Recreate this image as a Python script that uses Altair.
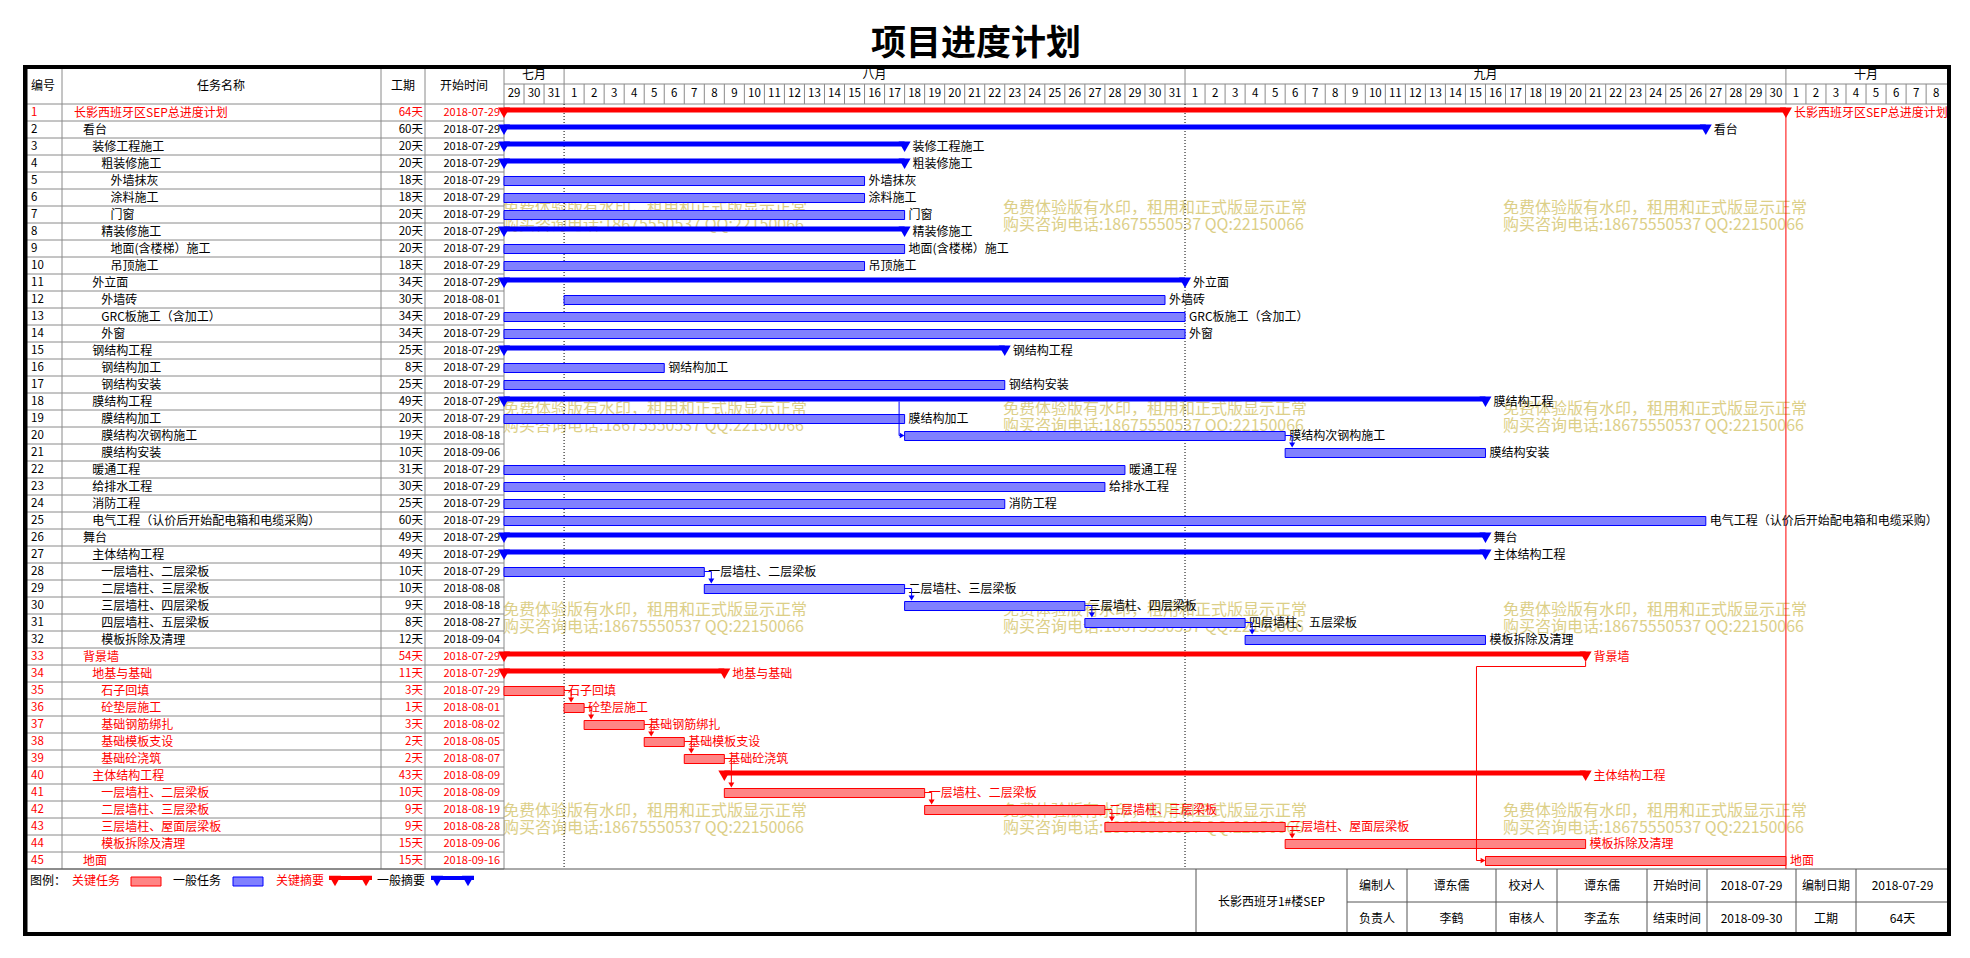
import altair as alt
import pandas as pd
import numpy as np

# ---------------- data ----------------
ids = list(range(1, 46))
names = ["长影西班牙区SEP总进度计划", "看台", "装修工程施工", "粗装修施工", "外墙抹灰", "涂料施工", "门窗",
         "精装修施工", "地面(含楼梯）施工", "吊顶施工", "外立面", "外墙砖", "GRC板施工（含加工）", "外窗",
         "钢结构工程", "钢结构加工", "钢结构安装", "膜结构工程", "膜结构加工", "膜结构次钢构施工", "膜结构安装",
         "暖通工程", "给排水工程", "消防工程", "电气工程（认价后开始配电箱和电缆采购）", "舞台", "主体结构工程",
         "一层墙柱、二层梁板", "二层墙柱、三层梁板", "三层墙柱、四层梁板", "四层墙柱、五层梁板", "模板拆除及清理",
         "背景墙", "地基与基础", "石子回填", "砼垫层施工", "基础钢筋绑扎", "基础模板支设", "基础砼浇筑",
         "主体结构工程", "一层墙柱、二层梁板", "二层墙柱、三层梁板", "三层墙柱、屋面层梁板", "模板拆除及清理", "地面"]
levels = [1, 2, 3, 4, 5, 5, 5, 4, 5, 5, 3, 4, 4, 4, 3, 4, 4, 3, 4, 4, 4, 3, 3, 3, 3,
          2, 3, 4, 4, 4, 4, 4, 2, 3, 4, 4, 4, 4, 4, 3, 4, 4, 4, 4, 2]
durations = [64, 60, 20, 20, 18, 18, 20, 20, 20, 18, 34, 30, 34, 34, 25, 8, 25, 49, 20, 19, 10,
             31, 30, 25, 60, 49, 49, 10, 10, 9, 8, 12, 54, 11, 3, 1, 3, 2, 2, 43, 10, 9, 9, 15, 15]
starts = ["2018-07-29"] * 11 + ["2018-08-01"] + ["2018-07-29"] * 7 + ["2018-08-18", "2018-09-06"] + \
         ["2018-07-29"] * 7 + ["2018-08-08", "2018-08-18", "2018-08-27", "2018-09-04"] + \
         ["2018-07-29"] * 3 + ["2018-08-01", "2018-08-02", "2018-08-05", "2018-08-07", "2018-08-09",
                               "2018-08-09", "2018-08-19", "2018-08-28", "2018-09-06", "2018-09-16"]
summary_ids = [1, 2, 3, 4, 8, 11, 15, 18, 26, 27, 33, 34, 40]
critical_ids = [1] + list(range(33, 46))
links_a = [(28, 29), (29, 30), (30, 31), (31, 32), (20, 21), (35, 36), (36, 37), (37, 38),
           (38, 39), (39, 41), (41, 42), (42, 43), (43, 44)]
link_19_20 = (18, 19, 20)   # drawn from the summary row above, down-then-right
link_33_45 = (33, 45)       # back link: down, left, down, right

month_names = ["七月", "八月", "九月", "十月"]
timeline_start = "2018-07-29"
timeline_days = 72

col_headers = ["编号", "任务名称", "工期", "开始时间"]
legend_labels = ["图例：", "关键任务", "一般任务", "关键摘要", "一般摘要"]
footer_project = "长影西班牙1#楼SEP"
footer_row1 = ["编制人", "谭东儒", "校对人", "谭东儒", "开始时间", "2018-07-29", "编制日期", "2018-07-29"]
footer_row2 = ["负责人", "李鹤", "审核人", "李孟东", "结束时间", "2018-09-30", "工期", "64天"]
title_text = "项目进度计划"
wm1 = "免费体验版有水印，租用和正式版显示正常"
wm2 = "购买咨询电话:18675550537 QQ:22150066"

# ---------------- layout ----------------
W, H = 1950, 940
OX, OY = 8, 8
DAY0, DW = 504.0, 20.03
ROW_TOP, ROW_H = 104.0, 17.0
dmin = -(DAY0 - OX) / DW
dmax = dmin + W / DW
rmin = -((ROW_TOP - ROW_H / 2) - OY) / ROW_H
rmax = rmin + H / ROW_H
XS = alt.Scale(domain=[dmin, dmax], nice=False, zero=False)
YS = alt.Scale(domain=[rmin, rmax], nice=False, zero=False, reverse=True)
F = "Noto Sans CJK SC"
RED, BLUE = "#FF0000", "#0000FF"
RFILL, BFILL = "#FF8585", "#8080FF"
GRAY = "#8a8a8a"

base = pd.Timestamp(timeline_start)
df = pd.DataFrame(dict(id=ids, name=names, level=levels, dur=durations, start=starts))
df["sday"] = [(pd.Timestamp(s) - base).days for s in starts]
df["eday"] = df["sday"] + df["dur"]
df["summary"] = df["id"].isin(summary_ids)
df["crit"] = np.where(df["id"].isin(critical_ids), "y", "n")
df["durtxt"] = df["dur"].astype(str) + "天"
df["idtxt"] = df["id"].astype(str)

one = pd.DataFrame({"a": [0]})


def X(f):
    return alt.X(f, type="quantitative", scale=XS, axis=None)


def Y(f):
    return alt.Y(f, type="quantitative", scale=YS, axis=None)


def txt(s, x, y, size=12, color="black", align="center", weight="normal", font=F):
    return alt.Chart(one).mark_text(text=s, font=font, fontSize=size, color=color, align=align,
                                    baseline="middle", fontWeight=weight).encode(
        x=alt.value(x - OX), y=alt.value(y - OY))


def hline(x1, x2, y, color=GRAY, w=1):
    return alt.Chart(one).mark_rule(color=color, strokeWidth=w).encode(
        x=alt.value(x1 - OX), x2=alt.value(x2 - OX), y=alt.value(y - OY))


def vline(x, y1, y2, color=GRAY, w=1):
    return alt.Chart(one).mark_rule(color=color, strokeWidth=w).encode(
        x=alt.value(x - OX), y=alt.value(y1 - OY), y2=alt.value(y2 - OY))


def cond(on, off):
    return alt.condition("datum.crit == 'y'", alt.value(on), alt.value(off))


layers = []

# watermarks
for wy in [208, 409, 610, 811]:
    for wx in [503, 1003, 1503]:
        layers.append(txt(wm1, wx, wy, size=16, color="#DCCF88", align="left"))
        layers.append(txt(wm2, wx, wy + 17, size=16, color="#DCCF88", align="left"))

# title
layers.append(txt(title_text, 976, 44, size=35, weight="bold"))

# ---- grid of left table ----
bounds = pd.DataFrame({"b": np.arange(0, 46) + 0.5})
layers.append(alt.Chart(bounds).mark_rule(color=GRAY, strokeWidth=1).encode(
    x=alt.value(25 - OX), x2=alt.value(504 - OX), y=Y("b")))
layers.append(hline(504, 1949, 104))
layers.append(hline(504, 1949, 84))
for cx in [62, 381, 425, 504]:
    layers.append(vline(cx, 67, 869))

# day / month header lines
days = pd.date_range(base, periods=timeline_days)
dd = pd.DataFrame({"d": np.arange(timeline_days), "lab": [str(x.day) for x in days]})
dd["c"] = dd["d"] + 0.5
layers.append(alt.Chart(dd[dd.d > 0]).mark_rule(color=GRAY, strokeWidth=1).encode(
    x=X("d"), y=alt.value(84 - OY), y2=alt.value(104 - OY)))
layers.append(alt.Chart(dd).mark_text(font=F, fontSize=11.5, baseline="middle", color="black").encode(
    x=X("c"), y=alt.value(94 - OY), text="lab:N"))
mstart = [0] + [i for i in range(1, timeline_days) if days[i].day == 1]
mend = mstart[1:] + [timeline_days]
md = pd.DataFrame({"m": month_names, "s": mstart, "e": mend})
md["c"] = (md["s"] + md["e"]) / 2
layers.append(alt.Chart(md[md.s > 0]).mark_rule(color=GRAY, strokeWidth=1).encode(
    x=X("s"), y=alt.value(67 - OY), y2=alt.value(84 - OY)))
layers.append(alt.Chart(md).mark_text(font=F, fontSize=12, baseline="middle", color="black").encode(
    x=X("c"), y=alt.value(75 - OY), text="m:N"))
# dotted month lines in gantt
layers.append(alt.Chart(md[(md.s > 0) & (md.s < 60)]).mark_rule(color="black", strokeWidth=1, strokeDash=[1, 2]).encode(
    x=X("s"), y=alt.value(104 - OY), y2=alt.value(869 - OY)))
# project end red line
endd = pd.DataFrame({"e": [int(df.eday.max())], "r1": [1.0], "r2": [45.5]})
layers.append(alt.Chart(endd).mark_rule(color=RED, strokeWidth=1).encode(x=X("e"), y=Y("r1"), y2="r2"))

# column headers
for s, cx in zip(col_headers, [43, 221, 403, 464]):
    layers.append(txt(s, cx, 86))

# ---- table text ----
layers.append(alt.Chart(df).mark_text(font=F, fontSize=11.5, align="left", baseline="middle").encode(
    x=alt.value(31 - OX), y=Y("id"), text="idtxt:N", color=cond(RED, "black")))
for L in range(1, 6):
    layers.append(alt.Chart(df).transform_filter(f"datum.level == {L}").mark_text(
        font=F, fontSize=12, align="left", baseline="middle").encode(
        x=alt.value(74 + 9.1 * (L - 1) - OX), y=Y("id"), text="name:N", color=cond(RED, "black")))
layers.append(alt.Chart(df).mark_text(font=F, fontSize=11.5, align="right", baseline="middle").encode(
    x=alt.value(423 - OX), y=Y("id"), text="durtxt:N", color=cond(RED, "black")))
layers.append(alt.Chart(df).mark_text(font=F, fontSize=11, align="right", baseline="middle").encode(
    x=alt.value(500 - OX), y=Y("id"), text="start:N", color=cond(RED, "black")))

# ---- gantt bars ----
layers.append(alt.Chart(df).transform_filter("!datum.summary").mark_rect(yOffset=-4, y2Offset=5, strokeWidth=1).encode(
    x=X("sday"), x2="eday", y=Y("id"), y2="id", fill=cond(RFILL, BFILL), stroke=cond(RED, BLUE)))
layers.append(alt.Chart(df).transform_filter("datum.summary").mark_rule(strokeWidth=5, strokeCap="butt", yOffset=-2.5).encode(
    x=X("sday"), x2="eday", y=Y("id"), color=cond(RED, BLUE)))
layers.append(alt.Chart(df).transform_filter("datum.summary").transform_fold(["sday", "eday"]).mark_point(
    shape="triangle-down", filled=True, size=144, opacity=1, yOffset=0.2, strokeWidth=0).encode(
    x=X("value"), y=Y("id"), color=cond(RED, BLUE)))

# labels
layers.append(alt.Chart(df).transform_filter("!datum.summary").mark_text(font=F, fontSize=12, align="left", baseline="middle", dx=4).encode(
    x=X("eday"), y=Y("id"), text="name:N", color=cond(RED, "black")))
layers.append(alt.Chart(df).transform_filter("datum.summary").mark_text(font=F, fontSize=12, align="left", baseline="middle", dx=8).encode(
    x=X("eday"), y=Y("id"), text="name:N", color=cond(RED, "black")))

# ---- links ----
lk = df.set_index("id")
la = pd.DataFrame([{"pe": lk.loc[p, "eday"], "pr": p, "sr": s, "crit": lk.loc[s, "crit"]} for p, s in links_a])
layers.append(alt.Chart(la).mark_rule(strokeWidth=1, x2Offset=7).encode(
    x=X("pe"), x2="pe", y=Y("pr"), color=cond(RED, BLUE)))
layers.append(alt.Chart(la).mark_rule(strokeWidth=1, xOffset=7, x2Offset=7, y2Offset=-8).encode(
    x=X("pe"), x2="pe", y=Y("pr"), y2="sr", color=cond(RED, BLUE)))
layers.append(alt.Chart(la).mark_point(shape="triangle-down", filled=True, size=36, opacity=1, strokeWidth=0,
                                       xOffset=7, yOffset=-7.5).encode(
    x=X("pe"), y=Y("sr"), color=cond(RED, BLUE)))

# link 19 -> 20 (vertical from above, then into the successor)
top_r, p, s = link_19_20
lb = pd.DataFrame([{"pe": lk.loc[p, "eday"], "ss": lk.loc[s, "sday"], "tr": top_r, "sr": s, "crit": lk.loc[s, "crit"]}])
layers.append(alt.Chart(lb).mark_rule(strokeWidth=1, xOffset=-5.5, x2Offset=-5.5).encode(
    x=X("pe"), x2="pe", y=Y("tr"), y2="sr", color=cond(RED, BLUE)))
layers.append(alt.Chart(lb).mark_rule(strokeWidth=1, xOffset=-5.5, x2Offset=-4).encode(
    x=X("pe"), x2="ss", y=Y("sr"), color=cond(RED, BLUE)))
layers.append(alt.Chart(lb).mark_point(shape="triangle-right", filled=True, size=30, opacity=1, strokeWidth=0,
                                       xOffset=-2.5).encode(
    x=X("ss"), y=Y("sr"), color=cond(RED, BLUE)))

# link 33 -> 45 (back link)
p, s = link_33_45
lc = pd.DataFrame([{"pe": lk.loc[p, "eday"], "ss": lk.loc[s, "sday"], "pr": p, "sr": s, "crit": lk.loc[s, "crit"]}])
layers.append(alt.Chart(lc).mark_rule(strokeWidth=1, yOffset=5, y2Offset=10).encode(
    x=X("pe"), y=Y("pr"), y2="pr", color=cond(RED, BLUE)))
layers.append(alt.Chart(lc).mark_rule(strokeWidth=1, xOffset=-9, yOffset=10).encode(
    x=X("ss"), x2="pe", y=Y("pr"), color=cond(RED, BLUE)))
layers.append(alt.Chart(lc).mark_rule(strokeWidth=1, xOffset=-9, x2Offset=-9, yOffset=10).encode(
    x=X("ss"), x2="ss", y=Y("pr"), y2="sr", color=cond(RED, BLUE)))
layers.append(alt.Chart(lc).mark_rule(strokeWidth=1, xOffset=-9, x2Offset=-4).encode(
    x=X("ss"), x2="ss", y=Y("sr"), color=cond(RED, BLUE)))
layers.append(alt.Chart(lc).mark_point(shape="triangle-right", filled=True, size=30, opacity=1, strokeWidth=0,
                                       xOffset=-2.5).encode(
    x=X("ss"), y=Y("sr"), color=cond(RED, BLUE)))

# ---- footer ----
layers.append(hline(25, 1949, 869, color="#555555"))
fx = [1196, 1347, 1407, 1496, 1557, 1647, 1707, 1796, 1856, 1949]
for x in fx[:-1]:
    layers.append(vline(x, 869, 934, color="#555555"))
layers.append(hline(1347, 1949, 902, color="#555555"))
layers.append(txt(footer_project, (fx[0] + fx[1]) / 2, 902))
for i in range(8):
    cx = (fx[i + 1] + fx[i + 2]) / 2
    layers.append(txt(footer_row1[i], cx, 886))
    layers.append(txt(footer_row2[i], cx, 919))

# legend
LY = 881
layers.append(txt(legend_labels[0], 30, LY, align="left"))
layers.append(txt(legend_labels[1], 72, LY, color=RED, align="left"))
layers.append(alt.Chart(one).mark_rect(fill=RFILL, stroke=RED, strokeWidth=1).encode(
    x=alt.value(131 - OX), x2=alt.value(161 - OX), y=alt.value(877 - OY), y2=alt.value(886 - OY)))
layers.append(txt(legend_labels[2], 173, LY, align="left"))
layers.append(alt.Chart(one).mark_rect(fill=BFILL, stroke=BLUE, strokeWidth=1).encode(
    x=alt.value(233 - OX), x2=alt.value(263 - OX), y=alt.value(877 - OY), y2=alt.value(886 - OY)))
layers.append(txt(legend_labels[3], 276, LY, color=RED, align="left"))
layers.append(txt(legend_labels[4], 377, LY, align="left"))
for (x1, x2, c) in [(329, 372, RED), (431, 474, BLUE)]:
    layers.append(alt.Chart(one).mark_rule(color=c, strokeWidth=4, strokeCap="butt").encode(
        x=alt.value(x1 - OX), x2=alt.value(x2 - OX), y=alt.value(878 - OY)))
    for tx in [x1 + 6, x2 - 6]:
        layers.append(alt.Chart(one).mark_point(shape="triangle-down", filled=True, size=144, opacity=1,
                                                strokeWidth=0, color=c).encode(
            x=alt.value(tx - OX), y=alt.value(881 - OY)))

# outer border
layers.append(alt.Chart(one).mark_rect(fill=None, stroke="black", strokeWidth=4).encode(
    x=alt.value(25 - OX), x2=alt.value(1949 - OX), y=alt.value(67 - OY), y2=alt.value(934 - OY)))
layers.append(vline(26, 65, 936, color="black", w=3))

chart = alt.layer(*layers).properties(
    width=W, height=H, padding=0, autosize=alt.AutoSizeParams(type="none"), background="white"
).configure_view(strokeWidth=0)

chart.save("out.html", embed_options={"renderer": "svg", "actions": False})
